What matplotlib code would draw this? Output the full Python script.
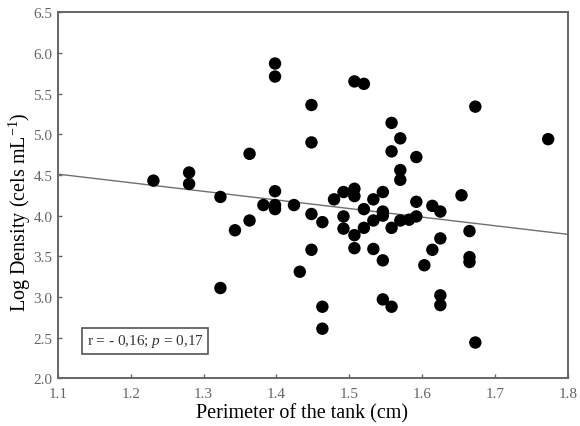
import matplotlib
matplotlib.use("Agg")
import matplotlib.pyplot as plt
import numpy as np

perimeter = [1.231, 1.280, 1.280, 1.323, 1.363, 1.398, 1.398, 1.398, 1.382, 1.398,
             1.398, 1.424, 1.363, 1.343, 1.323, 1.432, 1.507, 1.520, 1.448, 1.673,
             1.448, 1.558, 1.570, 1.558, 1.592, 1.773, 1.570, 1.570, 1.654, 1.479,
             1.492, 1.507, 1.507, 1.533, 1.546, 1.592, 1.614, 1.625, 1.448, 1.520,
             1.546, 1.546, 1.463, 1.492, 1.492, 1.507, 1.520, 1.533, 1.558, 1.570,
             1.582, 1.592, 1.665, 1.625, 1.614, 1.603, 1.665, 1.665, 1.448, 1.507,
             1.533, 1.546, 1.546, 1.558, 1.625, 1.625, 1.463, 1.463, 1.673]
log_density = [4.43, 4.53, 4.39, 4.23, 4.76, 5.87, 5.71, 4.30, 4.13, 4.13,
               4.08, 4.13, 3.94, 3.82, 3.11, 3.31, 5.65, 5.62, 5.36, 5.34,
               4.90, 5.14, 4.95, 4.79, 4.72, 4.94, 4.56, 4.44, 4.25, 4.20,
               4.29, 4.33, 4.24, 4.20, 4.29, 4.17, 4.12, 4.05, 4.02, 4.08,
               4.05, 4.00, 3.92, 3.99, 3.84, 3.76, 3.85, 3.94, 3.85, 3.94,
               3.95, 3.99, 3.81, 3.72, 3.58, 3.39, 3.49, 3.43, 3.58, 3.60,
               3.59, 3.45, 2.97, 2.88, 3.02, 2.90, 2.88, 2.61, 2.44]

# regression line (value at x=1.1 and x=1.8)
fit_x = [1.1, 1.8]
fit_y = [4.51, 3.77]

x_ticks = [1.1, 1.2, 1.3, 1.4, 1.5, 1.6, 1.7, 1.8]
y_ticks = [2.0, 2.5, 3.0, 3.5, 4.0, 4.5, 5.0, 5.5, 6.0, 6.5]

plt.rcParams['font.family'] = ['Liberation Serif', 'DejaVu Serif']
plt.rcParams['mathtext.fontset'] = 'custom'
plt.rcParams['mathtext.rm'] = 'Liberation Serif'
plt.rcParams['mathtext.it'] = 'Liberation Serif:italic'

fig = plt.figure(figsize=(5.8, 4.27), dpi=100)
ax = fig.add_axes([0.1, 0.1117, 0.879, 0.8572])

ax.plot(fit_x, fit_y, color='#6f6f6f', linewidth=1.0, zorder=2)
ax.scatter(perimeter, log_density, s=80, color='black', edgecolors='none', zorder=3)

ax.set_xlim(1.1, 1.8)
ax.set_ylim(2.0, 6.5)
ax.set_xticks(x_ticks)
ax.set_yticks(y_ticks)
ax.set_xticklabels([f"{v:.1f}" for v in x_ticks])
ax.set_yticklabels([f"{v:.1f}" for v in y_ticks])

for sp in ax.spines.values():
    sp.set_color('#666666')
    sp.set_linewidth(1.4)

ax.tick_params(direction='in', length=3, width=1, color='#666666',
               labelcolor='#666666', labelsize=11)
ax.tick_params(axis='x', pad=6)
ax.tick_params(axis='y', pad=4)

ax.set_xlabel('Perimeter of the tank (cm)', fontsize=14.5, color='black')
ax.set_ylabel('Log Density (cels mL$^{-1}$)', fontsize=14.5, color='black')
ax.xaxis.set_label_coords(0.478, -0.095)
ax.xaxis.label.set_verticalalignment('center')
ax.yaxis.set_label_coords(-0.0745, 0.457)
ax.yaxis.label.set_verticalalignment('center')

ax.text(0.171, 0.102, r'r = - 0,16; $p$ = 0,17', transform=ax.transAxes,
        ha='center', va='center', fontsize=11, color='#333333',
        bbox=dict(boxstyle='square,pad=0.3', facecolor='white', edgecolor='#555555', linewidth=1.2))

fig.savefig('out.png', dpi=100)
